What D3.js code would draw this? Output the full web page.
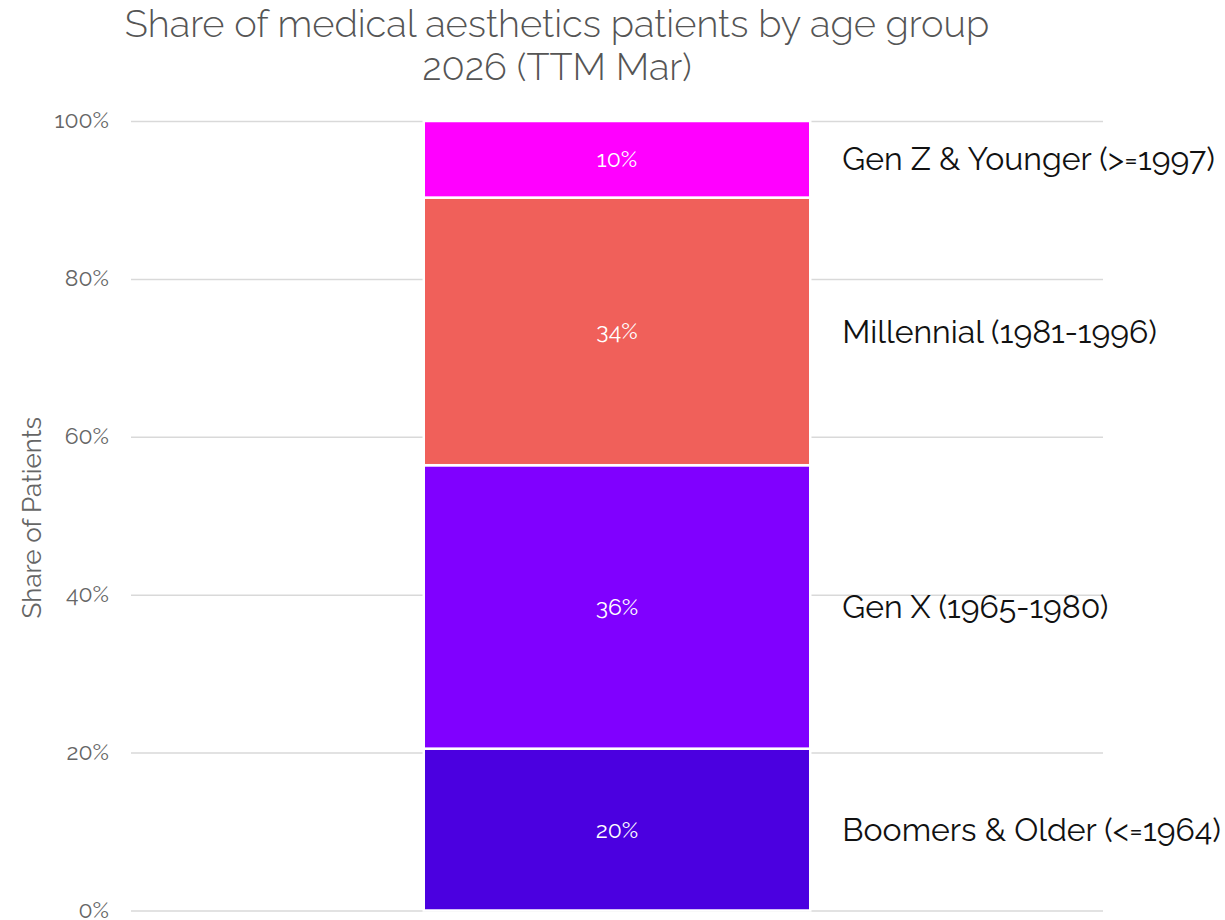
<!DOCTYPE html>
<html>
<head>
<meta charset="utf-8">
<script src="https://cdn.jsdelivr.net/npm/d3@7"></script>
<style>
  html, body { margin: 0; padding: 0; background: #fff; }
  svg { display: block; font-family: Raleway, Lato, "Open Sans", sans-serif; }
</style>
</head>
<body>
<svg id="chart" width="1225" height="920"></svg>
<script>
// ---- data ----
const periods = ["2026 (TTM Mar)"];
const groups = ["Boomers & Older (<=1964)", "Gen X (1965-1980)", "Millennial (1981-1996)", "Gen Z & Younger (>=1997)"];
const shares = [20.5, 35.9, 33.9, 9.7];
const valueLabels = ["20%", "36%", "34%", "10%"];
const groupColors = ["#4b00e0", "#8000ff", "#f0605a", "#ff00ff"];
const yTicks = [0, 20, 40, 60, 80, 100];
const titleLines = ["Share of medical aesthetics patients by age group", "2026 (TTM Mar)"];
const yAxisTitle = "Share of Patients";

// ---- layout ----
const FONT = "Raleway, Lato, 'Open Sans', sans-serif";
const svg = d3.select("#chart");
const plotL = 131, plotR = 1103, plotT = 121, plotB = 910.5;

const x = d3.scaleBand().domain(periods).range([plotL, plotR]).paddingInner(0.431).paddingOuter(0.431);
const y = d3.scaleLinear().domain([0, 100]).range([plotB, plotT]);

// gridlines
const yAxis = d3.axisLeft(y).tickValues(yTicks).tickSize(-(plotR - plotL)).tickPadding(22).tickFormat(d => d + "%");
const gy = svg.append("g").attr("transform", `translate(${plotL},0)`).call(yAxis)
  .attr("font-family", FONT).attr("font-size", 23);
gy.select(".domain").remove();
gy.selectAll(".tick line").attr("stroke", "#d9d9d9").attr("stroke-width", 1.5);
gy.selectAll(".tick text").attr("fill", "#666").attr("dy", "0.3em");

// stacked data
const stackInput = [Object.fromEntries(groups.map((g, i) => [g, shares[i]]))];
stackInput[0].period = periods[0];
const stacked = d3.stack().keys(groups)(stackInput);

const seg = svg.append("g").selectAll("g").data(stacked).join("g");
seg.append("rect")
  .attr("x", x(periods[0]))
  .attr("width", x.bandwidth())
  .attr("y", d => y(d[0][1]))
  .attr("height", d => y(d[0][0]) - y(d[0][1]))
  .attr("fill", (d, i) => groupColors[i])
  .attr("stroke", "#fff")
  .attr("stroke-width", 2.5);

seg.append("text")
  .attr("x", x(periods[0]) + x.bandwidth() / 2)
  .attr("y", d => y((d[0][0] + d[0][1]) / 2))
  .attr("dy", "0.35em")
  .attr("text-anchor", "middle")
  .attr("fill", "#fff")
  .attr("font-size", 23)
  .text((d, i) => valueLabels[i]);

// group labels on the right
seg.append("text")
  .attr("x", x(periods[0]) + x.bandwidth() + 32)
  .attr("y", d => y((d[0][0] + d[0][1]) / 2))
  .attr("dy", "0.35em")
  .attr("fill", "#111")
  .attr("font-size", 32)
  .text(d => d.key);

// title
svg.append("g").selectAll("text").data(titleLines).join("text")
  .attr("x", 557)
  .attr("y", (d, i) => 37 + i * 43)
  .attr("text-anchor", "middle")
  .attr("fill", "#555")
  .attr("font-size", 38)
  .attr("font-weight", 300)
  .text(d => d);

// y axis title
svg.append("text")
  .attr("transform", `translate(41,${(plotT + plotB) / 2 + 2}) rotate(-90)`)
  .attr("text-anchor", "middle")
  .attr("fill", "#666")
  .attr("font-size", 26)
  .text(yAxisTitle);
</script>
</body>
</html>
